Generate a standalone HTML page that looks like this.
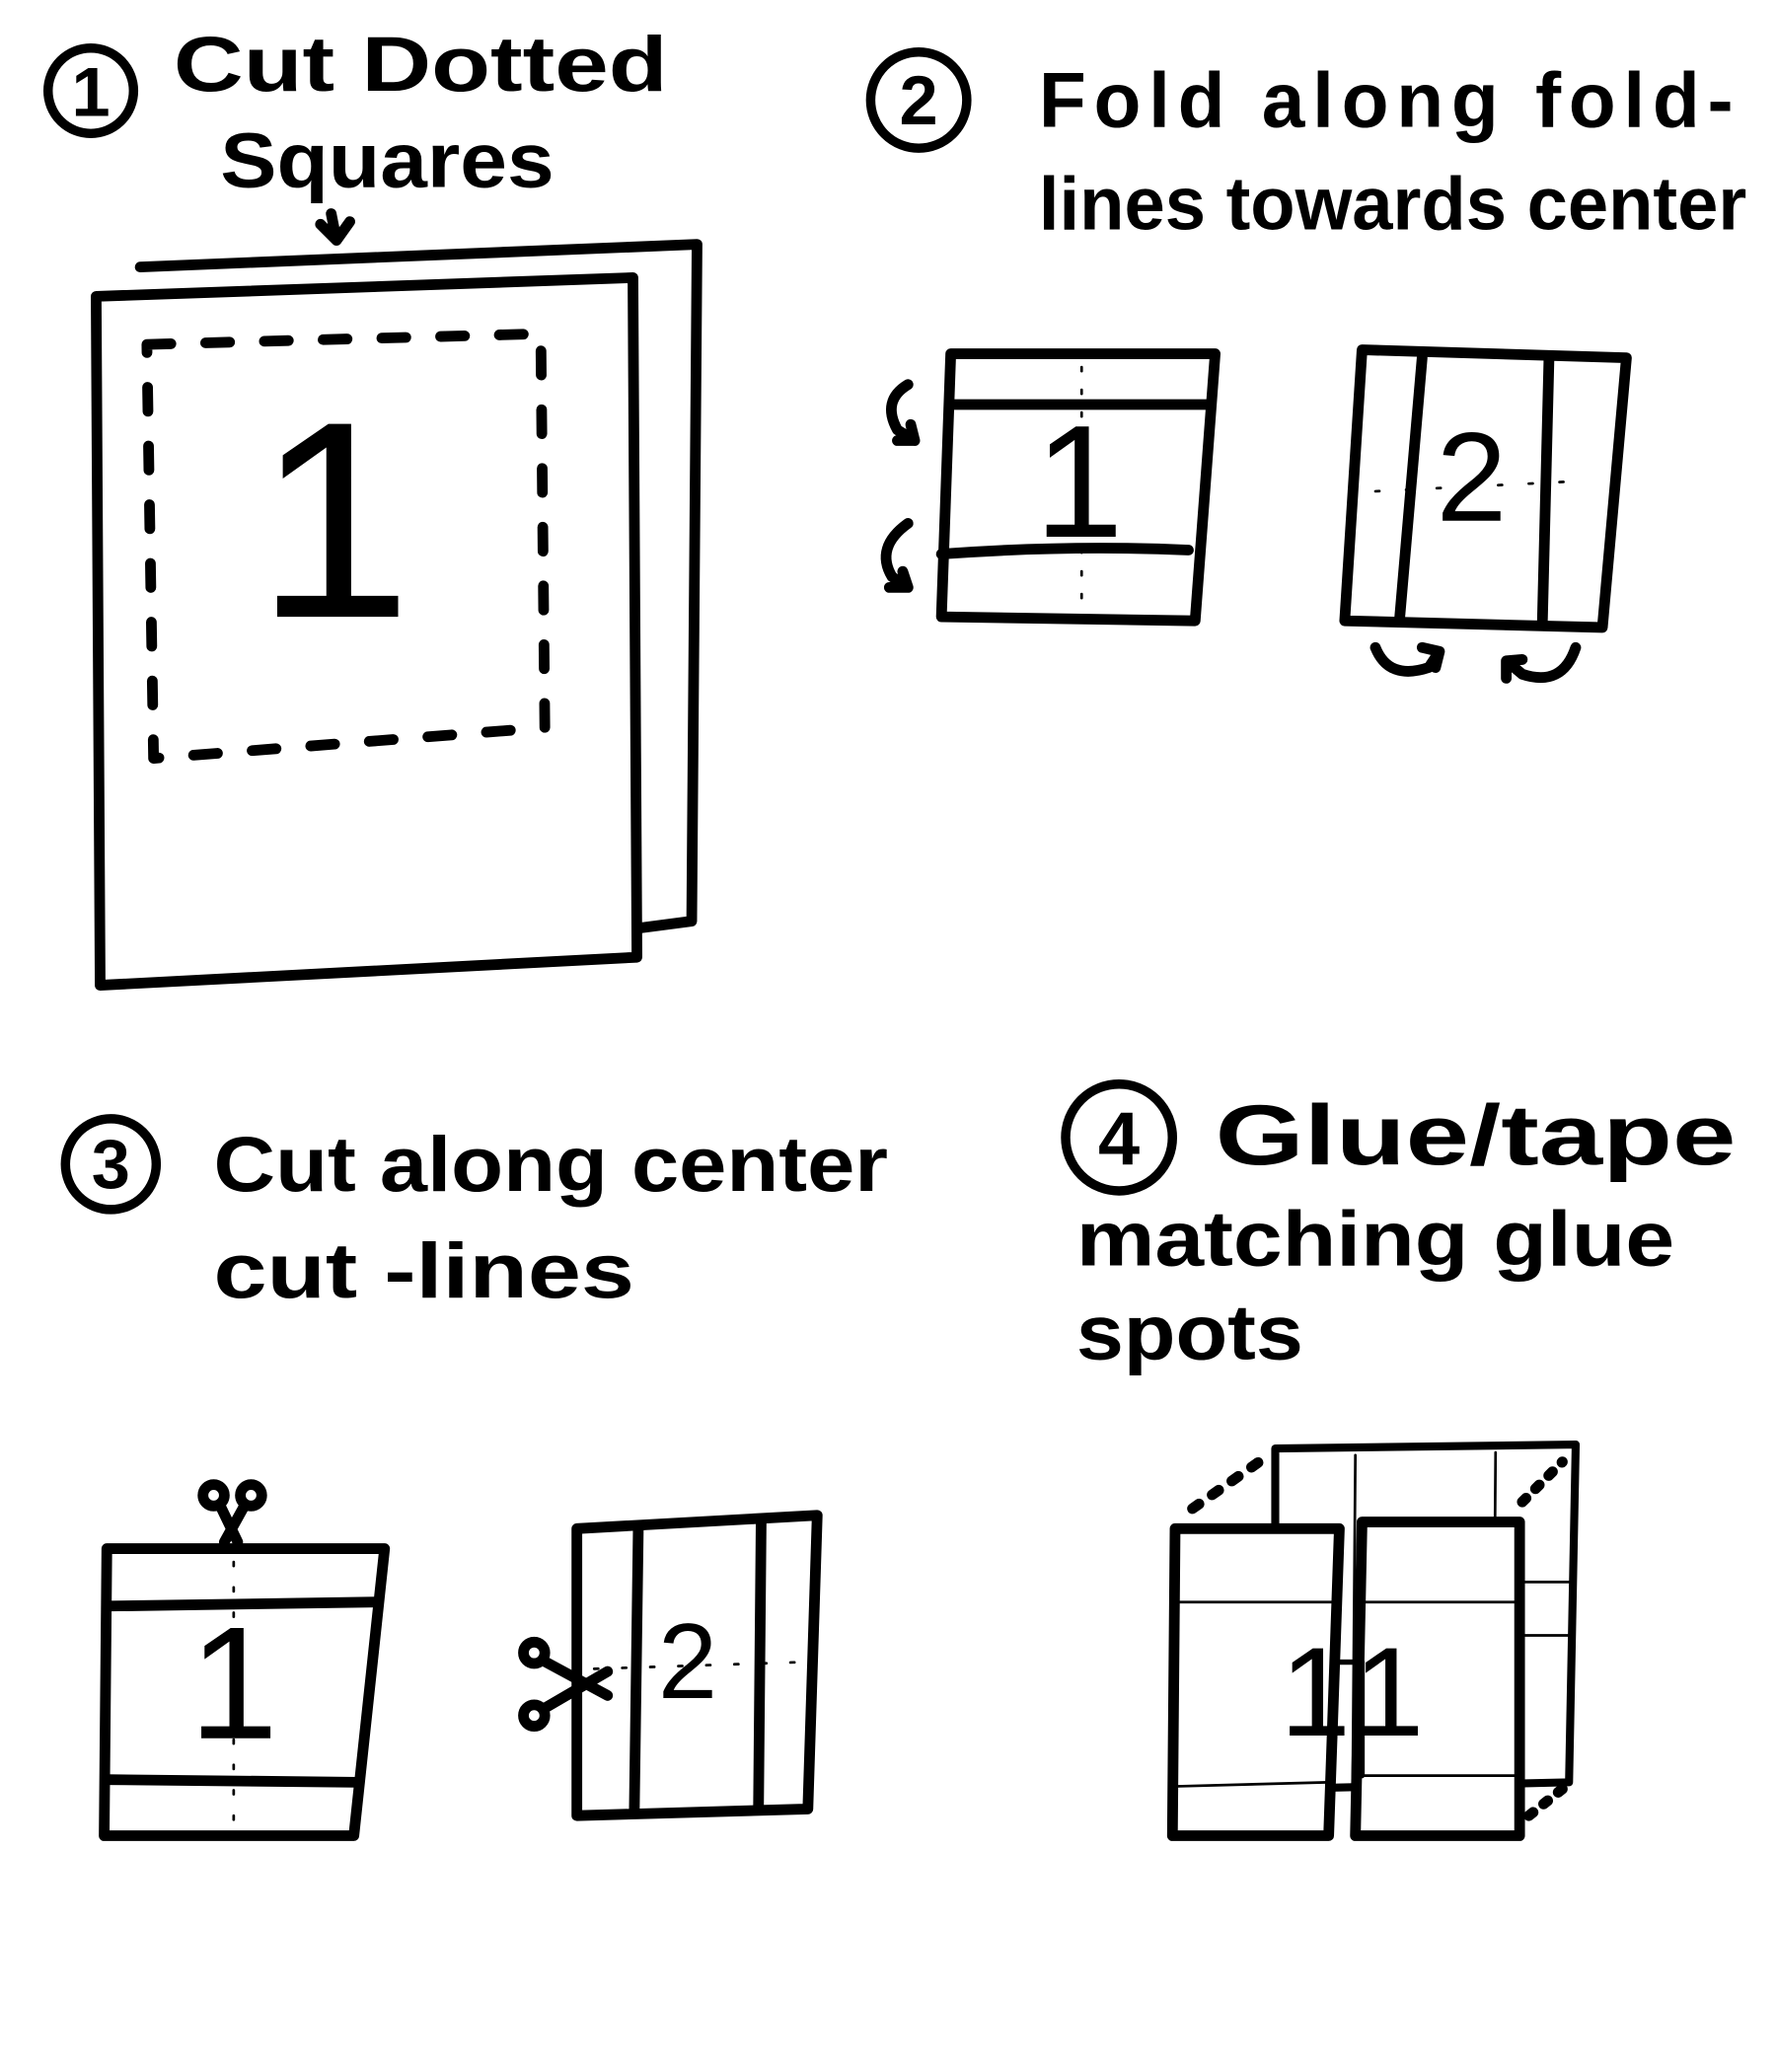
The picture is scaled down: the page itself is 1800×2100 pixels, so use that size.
<!DOCTYPE html>
<html><head><meta charset="utf-8"><style>
html,body{margin:0;padding:0;background:#fff;}
svg{display:block;}
text{font-family:"Liberation Sans",sans-serif;font-weight:bold;fill:#000;}
</style></head><body>
<svg width="1800" height="2100" viewBox="0 0 1330 1552" preserveAspectRatio="none" xmlns="http://www.w3.org/2000/svg">
<g fill="none" stroke="#000" stroke-width="8" stroke-linejoin="round" stroke-linecap="round">
<circle cx="68" cy="68" r="32" stroke-width="7"/>
<path d="M248 160 L252 180 M240 168 L252 180 L262 166"/>
<path d="M105 200 L522 183 L518 690 L480 695"/>
<path d="M72 222 L474 208 L477 717 L75 738 Z" fill="#fff"/>
<path d="M110 258 L405 250 L408 545 L115 568 Z" stroke-dasharray="18 26"/>
<circle cx="688" cy="75" r="36" stroke-width="7"/>
<path d="M712 265 L910 265 L895 465 L705 462 Z"/>
<path d="M712 303 L905 303 M705 415 Q800 408 890 412"/>
<path d="M810 275 L810 455" stroke-width="2" stroke-dasharray="3 14"/>
<path d="M680 288 Q660 300 672 322 L685 330 M672 330 L685 330 L682 318"/>
<path d="M680 392 Q655 410 668 432 L680 440 M666 440 L680 440 L676 428"/>
<path d="M1020 262 L1218 268 L1200 470 L1007 465 Z"/>
<path d="M1065 268 L1048 465 M1160 268 L1155 468"/>
<path d="M1030 368 L1190 360" stroke-width="2" stroke-dasharray="3 20"/>
<path d="M1030 485 Q1040 510 1070 500 L1078 488 M1065 485 L1078 488 L1075 500"/>
<path d="M1180 485 Q1170 515 1140 505 L1128 495 M1128 508 L1128 495 L1140 494"/>
<circle cx="83" cy="872" r="34" stroke-width="7"/>
<path d="M80 1160 L288 1160 L265 1375 L78 1375 Z"/>
<path d="M82 1203 L282 1200 M80 1333 L268 1335"/>
<path d="M175 1170 L175 1370" stroke-width="2" stroke-dasharray="3 16"/>
<circle cx="160" cy="1120" r="8"/><circle cx="188" cy="1120" r="8"/>
<path d="M165 1128 L178 1155 M183 1128 L168 1155"/>
<path d="M432 1145 L612 1135 L605 1355 L432 1360 Z"/>
<path d="M478 1145 L475 1358 M570 1140 L568 1355"/>
<path d="M445 1250 L600 1245" stroke-width="2" stroke-dasharray="3 18"/>
<circle cx="400" cy="1238" r="8"/><circle cx="400" cy="1285" r="8"/>
<path d="M407 1244 L455 1270 M407 1280 L455 1252"/>
<circle cx="838" cy="852" r="40" stroke-width="7"/>
<path d="M955 1085 L1180 1082 L1175 1335 L955 1340 Z" stroke-width="6"/>
<path d="M1015 1090 L1013 1335 M1120 1088 L1118 1335 M1120 1185 L1175 1185 M1120 1225 L1175 1225" stroke-width="2"/>
<path d="M893 1130 L950 1090" stroke-dasharray="6 12"/>
<path d="M1140 1125 L1170 1095 M1145 1360 L1170 1340" stroke-dasharray="4 10"/>
<path d="M880 1145 L1003 1145 L995 1375 L878 1375 Z" fill="#fff"/>
<path d="M1020 1140 L1138 1140 L1138 1375 L1015 1375 Z" fill="#fff"/>
<path d="M882 1200 L1000 1200 M882 1338 L995 1335 M1022 1200 L1136 1200 M1018 1330 L1136 1330" stroke-width="2"/>
<path d="M1000 1245 L1020 1245 L1020 1330" stroke-width="4"/>
</g>
<g>
<text x="68" y="87" font-size="52" text-anchor="middle">1</text>
<text x="130" y="68" font-size="58" textLength="370" lengthAdjust="spacingAndGlyphs">Cut Dotted</text>
<text x="165" y="140" font-size="58" textLength="250" lengthAdjust="spacingAndGlyphs">Squares</text>
<text x="250" y="462" font-size="210" text-anchor="middle" style="font-weight:normal">1</text>
<text x="688" y="93" font-size="52" text-anchor="middle">2</text>
<text x="778" y="95" font-size="58" textLength="520" lengthAdjust="spacing">Fold  along fold-</text>
<text x="778" y="172" font-size="56" textLength="530" lengthAdjust="spacingAndGlyphs">lines towards center</text>
<text x="808" y="402" font-size="120" text-anchor="middle" style="font-weight:normal">1</text>
<text x="1102" y="390" font-size="95" text-anchor="middle" style="font-weight:normal">2</text>
<text x="83" y="890" font-size="52" text-anchor="middle">3</text>
<text x="160" y="892" font-size="58" textLength="505" lengthAdjust="spacingAndGlyphs">Cut  along center</text>
<text x="160" y="972" font-size="58" textLength="315" lengthAdjust="spacingAndGlyphs">cut -lines</text>
<text x="175" y="1302" font-size="120" text-anchor="middle" style="font-weight:normal">1</text>
<text x="515" y="1272" font-size="80" text-anchor="middle" style="font-weight:normal">2</text>
<text x="838" y="872" font-size="56" text-anchor="middle">4</text>
<text x="910" y="872" font-size="64" textLength="390" lengthAdjust="spacingAndGlyphs">Glue/tape</text>
<text x="806" y="948" font-size="58" textLength="448" lengthAdjust="spacingAndGlyphs">matching glue</text>
<text x="806" y="1018" font-size="58" textLength="170" lengthAdjust="spacingAndGlyphs">spots</text>
<text x="985" y="1300" font-size="95" text-anchor="middle" style="font-weight:normal">1</text>
<text x="1040" y="1300" font-size="95" text-anchor="middle" style="font-weight:normal">1</text>
</g>
</svg>
</body></html>
